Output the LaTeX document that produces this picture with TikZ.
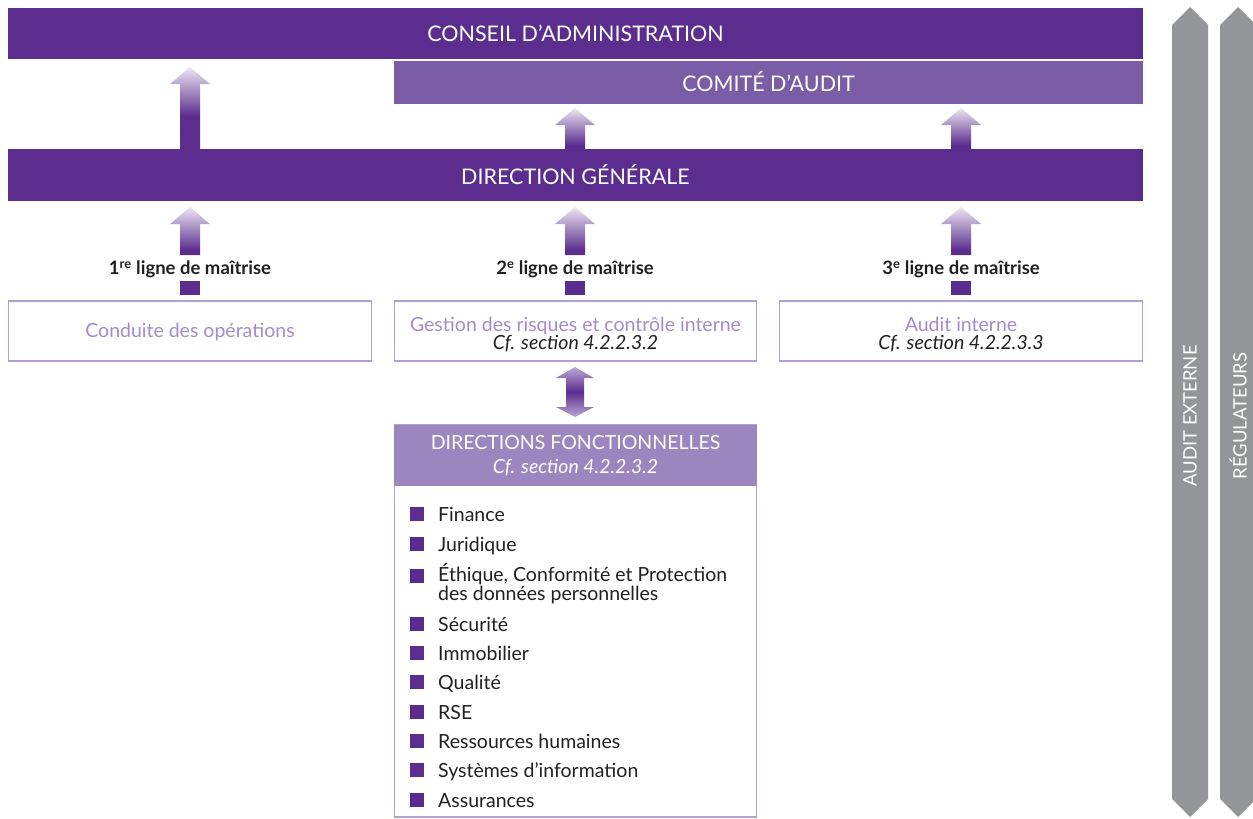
\documentclass[tikz,border=0pt]{standalone}
\usepackage{fontspec}
\setmainfont{Lato}
\definecolor{dp}{HTML}{5B2D8E}
\definecolor{mp}{HTML}{7B5CA6}
\definecolor{lp}{HTML}{9C86BF}
\definecolor{bp}{HTML}{B39FD2}
\definecolor{tp}{HTML}{A58BC9}
\definecolor{ap}{HTML}{ECE6F3}
\definecolor{ap2}{HTML}{BBA8D6}
\definecolor{gr}{HTML}{939598}
\definecolor{tx}{HTML}{231F20}
\pgfdeclareverticalshading{arrtop}{100bp}{color(0bp)=(dp); color(25bp)=(dp); color(45bp)=(dp); color(75bp)=(ap); color(100bp)=(ap)}
\pgfdeclareverticalshading{arrlow}{100bp}{color(0bp)=(dp); color(25bp)=(dp); color(30bp)=(dp); color(75bp)=(ap); color(100bp)=(ap)}
\pgfdeclareverticalshading{arrdbl}{100bp}{color(0bp)=(ap2); color(25bp)=(ap2); color(50bp)=(dp); color(75bp)=(ap2); color(100bp)=(ap2)}
\newcommand{\uparr}[4]{% x, ytop, ybot, shading
  \shade[shading=#4] (#1-10,#3) -- (#1-10,#2+17) -- (#1-20,#2+17) -- (#1,#2) -- (#1+20,#2+17) -- (#1+10,#2+17) -- (#1+10,#3) -- cycle;}
\begin{document}
\begin{tikzpicture}[x=1pt,y=-1pt,
  bar/.style={fill=dp,text=white,inner sep=0pt,font=\fontsize{21.5}{24}\selectfont},
  lbox/.style={draw=bp,line width=1.2pt,inner sep=0pt,minimum height=60pt,align=center,text=tx,font=\fontsize{19.5}{18}\selectfont},
  lvl/.style={text=tx,inner sep=0pt,font=\bfseries\fontsize{18.5}{20}\selectfont,anchor=base},
  stub/.style={fill=dp,inner sep=0pt,minimum width=20pt,minimum height=14pt},
  bul/.style={fill=dp,inner sep=0pt,minimum width=14pt,minimum height=14pt},
  item/.style={text=tx,inner sep=0pt,anchor=base west,align=left,font=\fontsize{19.5}{17}\selectfont},
  side/.style={fill=gr},
  sidetxt/.style={text=white,rotate=90,inner sep=0pt,font=\fontsize{18.5}{20}\selectfont}]
\useasboundingbox (0,0) rectangle (1253,819);

% top bars
\node[bar,minimum width=1135pt,minimum height=51pt] (ca) at (575.5,33.5) {CONSEIL D’ADMINISTRATION};
\node[bar,fill=mp,minimum width=749pt,minimum height=43pt] (cda) at (768.5,82) {COMITÉ D’AUDIT};
\node[bar,minimum width=1135pt,minimum height=52pt] (dg) at (575.5,175) {DIRECTION GÉNÉRALE};

% arrows to top
\uparr{190}{67}{149}{arrtop}
\uparr{575}{108}{149}{arrlow}
\uparr{961}{108}{149}{arrlow}

% arrows to DG
\uparr{190}{207}{255}{arrlow}
\uparr{575}{207}{255}{arrlow}
\uparr{961}{207}{255}{arrlow}

% level labels
\node[lvl] (l1) at (190,274.5) {1\textsuperscript{re} ligne de maîtrise};
\node[lvl] (l2) at (575,274.5) {2\textsuperscript{e} ligne de maîtrise};
\node[lvl] (l3) at (961,274.5) {3\textsuperscript{e} ligne de maîtrise};
\node[stub] (s1) at (190,288) {};
\node[stub] (s2) at (575,288) {};
\node[stub] (s3) at (961,288) {};

% level boxes
\node[lbox,minimum width=363pt] (b1) at (190,331) {\rule{0pt}{16pt}\color{tp}Conduite des opérations};
\node[lbox,minimum width=362pt] (b2) at (575.5,331) {\rule{0pt}{22pt}{\color{tp}Gestion des risques et contrôle interne}\\{\itshape Cf. section 4.2.2.3.2}};
\node[lbox,minimum width=363pt] (b3) at (961,331) {\rule{0pt}{22pt}{\color{tp}Audit interne}\\{\itshape Cf. section 4.2.2.3.3}};

% double arrow
\shade[shading=arrdbl] (566,378) -- (556,378) -- (575,367) -- (594,378) -- (584,378)
  -- (584,407) -- (594,407) -- (575,417) -- (556,407) -- (566,407) -- cycle;

% directions fonctionnelles
\draw[draw=bp,line width=1.2pt] (394.6,425) rectangle (756.4,817);
\node[fill=lp,inner sep=0pt,minimum width=363pt,minimum height=61pt,text=white,align=center,font=\fontsize{19.5}{24}\selectfont] (dfh) at (575.5,455.5)
  {DIRECTIONS FONCTIONNELLES\\{\itshape Cf. section 4.2.2.3.2}};

\foreach \y/\by/\t [count=\i] in {514/514/Finance,544/544/Juridique,593/576/{Éthique, Conformité et Protection\\des données personnelles},624/624/Sécurité,653/653/Immobilier,682/682/Qualité,712/712/RSE,741/741/Ressources humaines,770/770/Systèmes d’information,800/800/Assurances}{
  \node[bul] (bu\i) at (417,\by) {};
  \node[item] (it\i) at (438,\y+7) {\t};
}

% side arrows
\fill[side] (1172,25) -- (1190,7) -- (1208,25) -- (1208,799) -- (1190,817) -- (1172,799) -- cycle;
\fill[side] (1220,25) -- (1238,7) -- (1256,25) -- (1256,799) -- (1238,817) -- (1220,799) -- cycle;
\node[sidetxt] (ae) at (1190,416) {AUDIT EXTERNE};
\node[sidetxt] (rg) at (1238,416) {RÉGULATEURS};
\end{tikzpicture}
\end{document}
